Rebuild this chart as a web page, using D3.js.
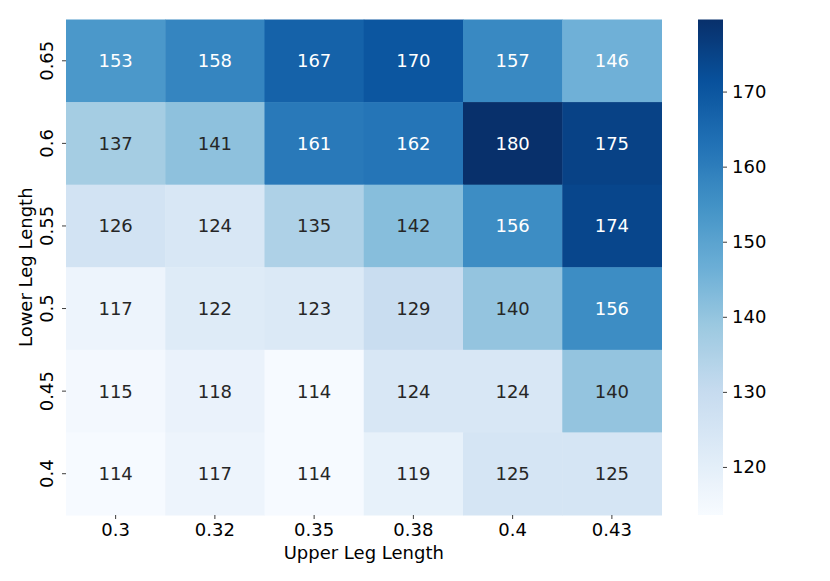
<!DOCTYPE html>
<html>
<head>
<meta charset="utf-8">
<script src="https://cdn.jsdelivr.net/npm/d3@7"></script>
<style>
  html, body { margin: 0; padding: 0; background: #fff; }
  svg { display: block; font-family: "DejaVu Sans", sans-serif; }
</style>
</head>
<body>
<svg id="chart" width="830" height="581"></svg>
<script>
// ---- data ----
const upperLeg = ["0.3", "0.32", "0.35", "0.38", "0.4", "0.43"];       // x categories
const lowerLeg = ["0.65", "0.6", "0.55", "0.5", "0.45", "0.4"];        // y categories (top to bottom)
const row065 = [153, 158, 167, 170, 157, 146];
const row060 = [137, 141, 161, 162, 180, 175];
const row055 = [126, 124, 135, 142, 156, 174];
const row050 = [117, 122, 123, 129, 140, 156];
const row045 = [115, 118, 114, 124, 124, 140];
const row040 = [114, 117, 114, 119, 125, 125];
const colorExtent = [113.6, 179.6];
const colorbarTicks = [120, 130, 140, 150, 160, 170];
const bluesStops = ["#f7fbff","#deebf7","#c6dbef","#9ecae1","#6baed6","#4292c6","#2171b5","#08519c","#08306b"];

const rows = [row065, row060, row055, row050, row045, row040];
const cells = [];
rows.forEach((r, i) => r.forEach((v, j) => cells.push({ row: lowerLeg[i], col: upperLeg[j], value: v })));

// ---- layout ----
const svg = d3.select("#chart");
const hm = { left: 66, right: 661.5, top: 19.5, bottom: 515 };
const cb = { left: 698, right: 723, top: 19.5, bottom: 515 };
const fontSize = 18;

const x = d3.scaleBand().domain(upperLeg).range([hm.left, hm.right]);
const y = d3.scaleBand().domain(lowerLeg).range([hm.top, hm.bottom]);
const interp = d3.piecewise(d3.interpolateRgb, bluesStops);
const norm = d3.scaleLinear().domain(colorExtent).range([0, 1]).clamp(true);
const color = v => interp(norm(v));

function luminance(c) {
  const rgb = d3.rgb(c);
  const lin = [rgb.r, rgb.g, rgb.b].map(u => {
    u = u / 255;
    return u <= 0.03928 ? u / 12.92 : Math.pow((u + 0.055) / 1.055, 2.4);
  });
  return 0.2126 * lin[0] + 0.7152 * lin[1] + 0.0722 * lin[2];
}

// ---- cells ----
svg.append("g").selectAll("rect").data(cells).join("rect")
  .attr("x", d => x(d.col))
  .attr("y", d => y(d.row))
  .attr("width", x.bandwidth() + 0.5)
  .attr("height", y.bandwidth() + 0.5)
  .attr("fill", d => color(d.value));

svg.append("g").selectAll("text").data(cells).join("text")
  .attr("x", d => x(d.col) + x.bandwidth() / 2)
  .attr("y", d => y(d.row) + y.bandwidth() / 2)
  .attr("text-anchor", "middle")
  .attr("dominant-baseline", "central")
  .attr("font-size", fontSize)
  .attr("fill", d => luminance(color(d.value)) > 0.408 ? "#262626" : "#ffffff")
  .text(d => d.value);

// ---- axes ----
const xAxis = svg.append("g")
  .attr("transform", `translate(0,${hm.bottom})`)
  .call(d3.axisBottom(x).tickSize(4).tickPadding(4));
xAxis.select(".domain").remove();
xAxis.selectAll(".tick line").attr("stroke", "#262626").attr("stroke-width", 0.9);
xAxis.selectAll(".tick text").attr("font-size", fontSize).attr("fill", "#000")
  .attr("font-family", "DejaVu Sans");

const yAxis = svg.append("g")
  .attr("transform", `translate(${hm.left},0)`)
  .call(d3.axisLeft(y).tickSize(4).tickPadding(4));
yAxis.select(".domain").remove();
yAxis.selectAll(".tick line").attr("stroke", "#262626").attr("stroke-width", 0.9);
yAxis.selectAll(".tick text")
  .attr("font-size", fontSize).attr("fill", "#000").attr("font-family", "DejaVu Sans")
  .attr("x", 0).attr("dy", null)
  .attr("text-anchor", "middle")
  .attr("transform", "translate(-13,0) rotate(-90)")
  .attr("dominant-baseline", "auto")
  .attr("y", 0);

svg.append("text")
  .attr("x", (hm.left + hm.right) / 2)
  .attr("y", 559)
  .attr("text-anchor", "middle")
  .attr("font-size", fontSize)
  .text("Upper Leg Length");

svg.append("text")
  .attr("transform", `translate(32,${(hm.top + hm.bottom) / 2}) rotate(-90)`)
  .attr("text-anchor", "middle")
  .attr("font-size", fontSize)
  .text("Lower Leg Length");

// ---- colorbar ----
const defs = svg.append("defs");
const grad = defs.append("linearGradient").attr("id", "cbgrad")
  .attr("x1", 0).attr("y1", 1).attr("x2", 0).attr("y2", 0);
d3.range(0, 1.0001, 1 / 64).forEach(t => {
  grad.append("stop").attr("offset", t).attr("stop-color", interp(t));
});
const cbScale = d3.scaleLinear().domain(colorExtent).range([cb.bottom, cb.top]);
svg.append("rect")
  .attr("x", cb.left).attr("y", cb.top)
  .attr("width", cb.right - cb.left).attr("height", cb.bottom - cb.top)
  .attr("fill", "url(#cbgrad)");
const cAxis = svg.append("g")
  .attr("transform", `translate(${cb.right},0)`)
  .call(d3.axisRight(cbScale).tickValues(colorbarTicks).tickSize(4).tickPadding(5));
cAxis.select(".domain").remove();
cAxis.selectAll(".tick line").attr("stroke", "#262626").attr("stroke-width", 0.9);
cAxis.selectAll(".tick text").attr("font-size", fontSize).attr("fill", "#000")
  .attr("font-family", "DejaVu Sans");
</script>
</body>
</html>
